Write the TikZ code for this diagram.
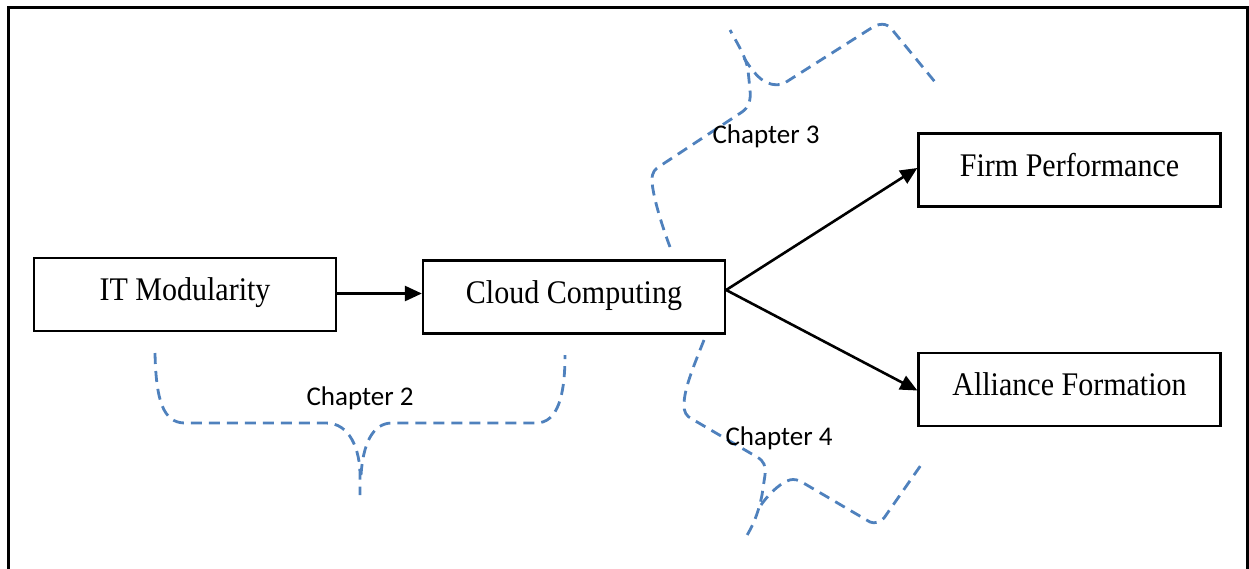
\documentclass[tikz,border=0pt]{standalone}
\usepackage{fontspec}
\setmainfont{Liberation Serif}
\newfontfamily\calfont{Carlito}
\usetikzlibrary{arrows.meta}
\definecolor{bracecol}{HTML}{4F81BD}
\tikzset{
  boxnode/.style={draw=black, line width=2.3pt, minimum width=302pt, minimum height=73pt,
    inner sep=0pt, text height=24pt, text depth=12pt, font=\fontsize{33}{36}\selectfont},
  brace/.style={draw=bracecol, line width=2.8pt, dash pattern=on 11pt off 7pt},
  chaplabel/.style={anchor=base, inner sep=0pt, font=\calfont\fontsize{27}{30}\selectfont},
  conn/.style={line width=2.6pt, -{Triangle[length=17pt,width=15pt]}},
}
\newcommand{\cnd}[1]{\scalebox{0.91}[1]{#1}}
\begin{document}
\begin{tikzpicture}[x=1pt,y=-1pt]
\useasboundingbox (0,0) rectangle (1249,568);
% frame
\draw[line width=3pt] (8,570) -- (8,7) -- (1247,7) -- (1247,570);
% boxes
\node[boxnode] (itm) at (185,294.5) {\cnd{IT Modularity}};
\node[boxnode] (cloud) at (574,297) {\cnd{Cloud Computing}};
\node[boxnode] (firm) at (1069.5,170) {\cnd{Firm Performance}};
\node[boxnode] (alli) at (1069.5,389.5) {\cnd{Alliance Formation}};
% connectors
\coordinate (fork) at ([yshift=7pt]cloud.east);
\draw[conn] ([yshift=1pt]itm.east) -- ([yshift=1pt]itm.east -| cloud.west);
\draw[conn] (fork) -- ([yshift=2pt]firm.west);
\draw[conn] (fork) -- ([yshift=-1pt]alli.west);
% chapter 2 brace
\draw[brace] (155,353) .. controls (156,400) and (163,423) .. (185,423) -- (326,423)
  .. controls (350,423) and (360,450) .. (360,475) -- (360,495);
\draw[brace] (361,475) .. controls (363,445) and (372,423) .. (392,423) -- (536,423)
  .. controls (558,423) and (565,395) .. (565,355);
% chapter 3 brace
\draw[brace] (670,247) .. controls (658,215) and (652,190) .. (652,180)
  .. controls (652,172) and (655,169) .. (660,166) -- (742,112)
  .. controls (749,107) and (751,100) .. (750,90) -- (748,70)
  .. controls (746,58) and (740,48) .. (730,30);
\draw[brace] (744,58) .. controls (755,75) and (765,88) .. (783,84) -- (873,27)
  .. controls (882,22) and (889,24) .. (894,32) -- (935,82);
% chapter 4 brace
\draw[brace] (704,340) .. controls (692,370) and (684,390) .. (684,405)
  .. controls (684,412) and (686,416) .. (692,419) -- (757,457)
  .. controls (764,461) and (766,466) .. (765,475) -- (762,495)
  .. controls (758,515) and (752,527) .. (746,537);
\draw[brace] (761,505) .. controls (768,495) and (778,485) .. (787,481)
  .. controls (791,479) and (795,479) .. (800,481) -- (870,522)
  .. controls (875,524) and (880,522) .. (884,518) -- (921,465);
% labels
\node[chaplabel] (ch2) at (360,405) {Chapter 2};
\node[chaplabel] (ch3) at (766,143) {Chapter 3};
\node[chaplabel] (ch4) at (779,445) {Chapter 4};
\end{tikzpicture}
\end{document}
